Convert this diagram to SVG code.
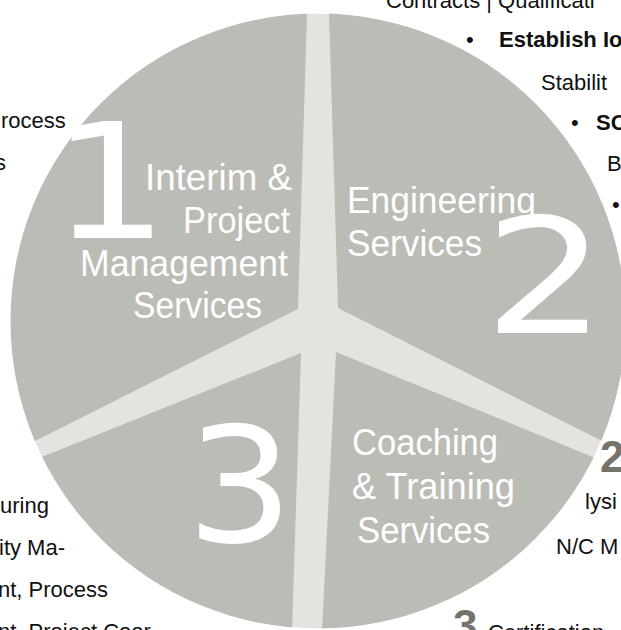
<svg xmlns="http://www.w3.org/2000/svg" width="621" height="630" viewBox="0 0 621 630">
  <defs>
    <clipPath id="disc">
      <circle cx="318" cy="321" r="307.5"/>
    </clipPath>
    <style>
      .sector { fill: #bbbcb6; }
      .gap { fill: #e3e4df; }
      .label { font-family: "Liberation Sans", Arial, sans-serif; font-size: 36px; fill: #ffffff; }
      .digit { font-family: "DejaVu Sans", sans-serif; font-size: 160px; fill: #ffffff; text-anchor: middle; }
      .side { font-family: "Liberation Sans", Arial, sans-serif; font-size: 22px; fill: #111111; }
      .bold { font-weight: bold; }
      .num { font-family: "Liberation Sans", Arial, sans-serif; font-size: 44px; font-weight: bold; fill: #74746c; }
    </style>
  </defs>
  <rect width="621" height="630" fill="#ffffff"/>

  <g id="wheel" clip-path="url(#disc)">
    <circle class="gap" cx="318" cy="321" r="307.5"/>
  </g>

  <g id="node-1" clip-path="url(#disc)">
    <polygon class="sector" points="298,309 -10,463.6 -10,-10 307.7,-10"/>
  </g>
  <g id="node-2" clip-path="url(#disc)">
    <polygon class="sector" points="338,308 328.3,-10 640,-10 640,460.2"/>
  </g>
  <g id="node-3" clip-path="url(#disc)">
    <polygon class="sector" points="301,353 -10,477.9 -10,640 291.7,640"/>
  </g>
  <g id="node-4" clip-path="url(#disc)">
    <polygon class="sector" points="336,352 321.5,640 640,640 640,476.2"/>
  </g>

  <g id="label-1">
    <text class="digit" transform="translate(110 238) scale(1.15 1)">1</text>
    <text class="label" x="145" y="190" textLength="147" lengthAdjust="spacingAndGlyphs">Interim &amp;</text>
    <text class="label" x="183" y="233" textLength="107" lengthAdjust="spacingAndGlyphs">Project</text>
    <text class="label" x="80" y="276" textLength="208" lengthAdjust="spacingAndGlyphs">Management</text>
    <text class="label" x="133" y="318" textLength="129" lengthAdjust="spacingAndGlyphs">Services</text>
  </g>
  <g id="label-2">
    <text class="label" x="347" y="213" textLength="189" lengthAdjust="spacingAndGlyphs">Engineering</text>
    <text class="label" x="347" y="256" textLength="135" lengthAdjust="spacingAndGlyphs">Services</text>
    <text class="digit" transform="translate(545 333) scale(1.2 1)">2</text>
  </g>
  <g id="label-3">
    <text class="digit" transform="translate(240 542) scale(1.05 1)">3</text>
    <text class="label" x="352" y="455" textLength="146" lengthAdjust="spacingAndGlyphs">Coaching</text>
    <text class="label" x="352" y="499" textLength="163" lengthAdjust="spacingAndGlyphs">&amp; Training</text>
    <text class="label" x="357" y="543" textLength="133" lengthAdjust="spacingAndGlyphs">Services</text>
  </g>

  <g id="connectors"></g>

  <g id="side-text">
    <text class="side" x="386" y="8">Contracts | Qualificati</text>
    <text class="side" x="466" y="47">•</text>
    <text class="side bold" x="499" y="47">Establish Io</text>
    <text class="side" x="541" y="90">Stabilit</text>
    <text class="side" x="571" y="130">•</text>
    <text class="side bold" x="596" y="130">SO</text>
    <text class="side" x="607" y="171">B</text>
    <text class="side" x="612" y="212">•</text>
    <text class="side" x="1" y="128">rocess</text>
    <text class="side" x="-5" y="170">s</text>
    <text class="side" x="0" y="513">uring</text>
    <text class="side" x="-1" y="555">ity Ma-</text>
    <text class="side" x="-2" y="597">nt, Process</text>
    <text class="side" x="-2" y="639">nt, Project Coor</text>
    <text class="num" x="600" y="472">2</text>
    <text class="side" x="585" y="509">lysi</text>
    <text class="side" x="556" y="554">N/C M</text>
    <text class="num" x="453" y="641">3</text>
    <text class="side" x="488" y="640">Certification</text>
  </g>
</svg>
